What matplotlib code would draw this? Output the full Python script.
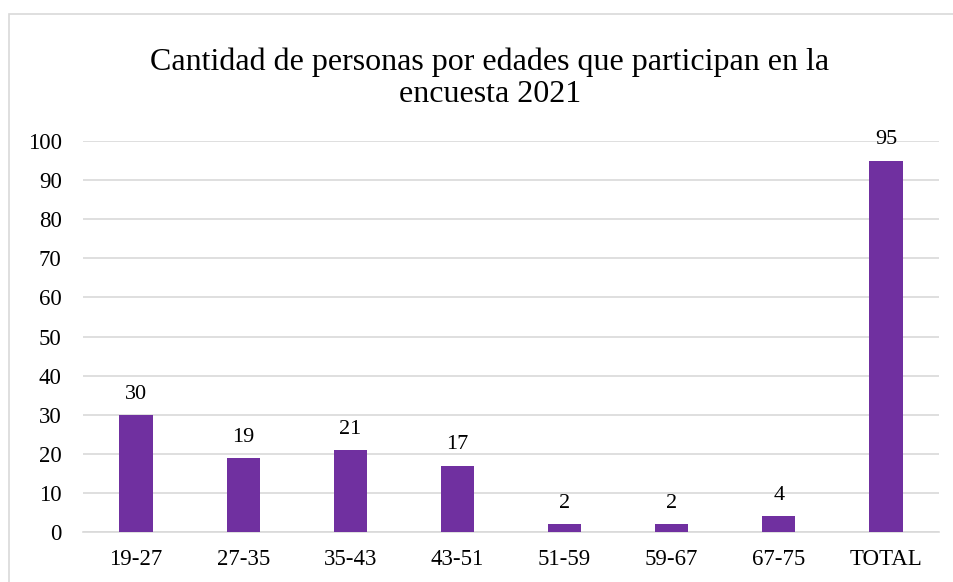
import matplotlib.pyplot as plt
from matplotlib.patches import Rectangle

plt.rcParams['font.family'] = ['Liberation Serif', 'DejaVu Serif']

categorias = ['19-27', '27-35', '35-43', '43-51', '51-59', '59-67', '67-75', 'TOTAL']
personas = [30, 19, 21, 17, 2, 2, 4, 95]
titulo = 'Cantidad de personas por edades que participan en la\nencuesta 2021'

fig = plt.figure(figsize=(9.54, 5.82), dpi=100)
ax = fig.add_axes([0.0865, 0.0859, 0.8983, 0.6718])

# marco gris del area del grafico
fig.patches.append(Rectangle((9 / 954, -0.1), 1.2, 1 - 14 / 582 + 0.1,
                             transform=fig.transFigure, fill=False,
                             edgecolor='#d9d9d9', linewidth=1.2))

x = range(len(categorias))
barras = ax.bar(x, personas, width=0.31, color='#7030a0', zorder=3)

for i, v in enumerate(personas):
    ax.annotate(str(v), (i, v), xytext=(0, 8), textcoords='offset points',
                ha='center', va='bottom', fontsize=16, color='black')

ax.set_xlim(-0.5, len(categorias) - 0.5)
ax.set_ylim(0, 100)
ax.set_yticks(range(0, 101, 10))
ax.set_xticks(list(x))
ax.set_xticklabels(categorias)
ax.tick_params(axis='both', length=0, labelsize=16.5, colors='black')
ax.tick_params(axis='y', pad=15)
ax.tick_params(axis='x', pad=12)

ax.yaxis.grid(True, color='#d9d9d9', linewidth=1.2, zorder=0)
for s in ['top', 'right', 'left']:
    ax.spines[s].set_visible(False)
ax.spines['bottom'].set_color('#d9d9d9')
ax.spines['bottom'].set_linewidth(1.2)

fig.text(490 / 954, 1 - 78 / 582, titulo, ha='center', va='center',
         fontsize=23, linespacing=1.15)

plt.savefig('out.png', dpi=100)
